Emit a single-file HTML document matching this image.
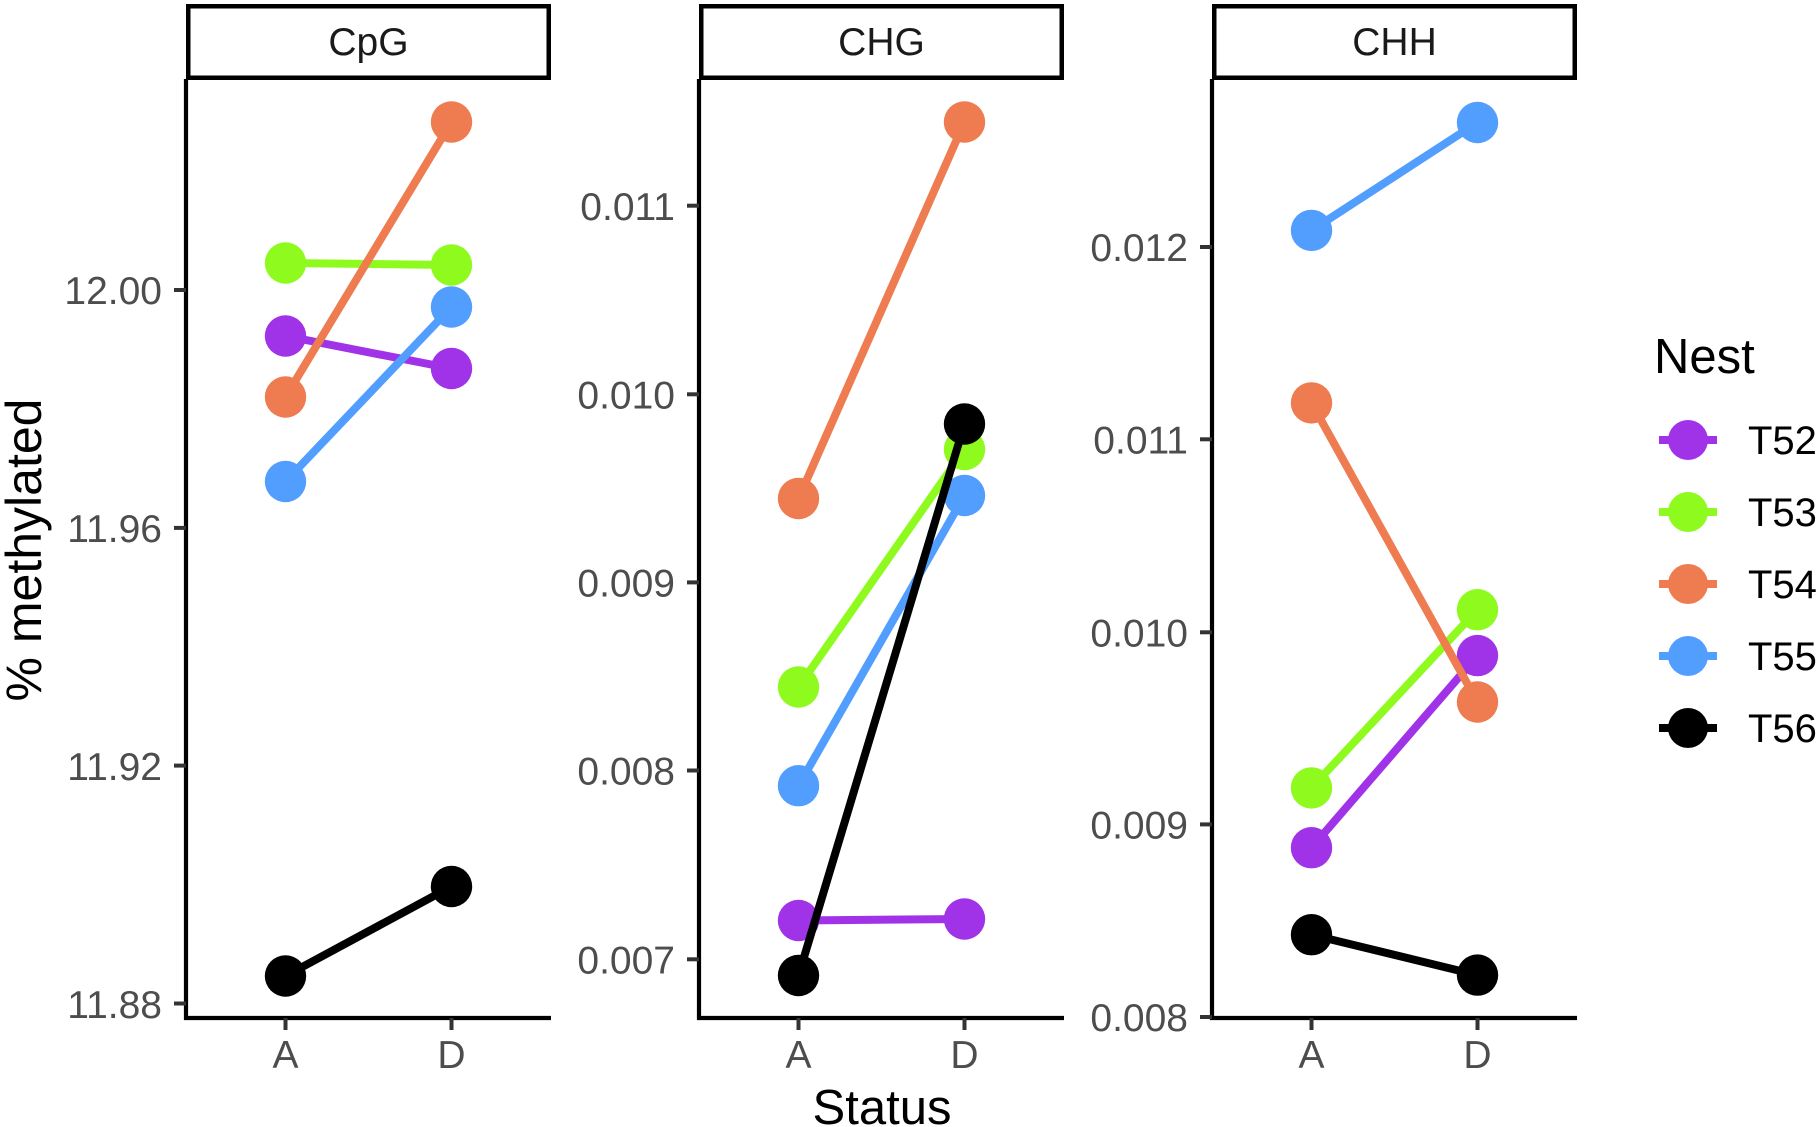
<!DOCTYPE html>
<html><head><meta charset="utf-8"><style>
html,body{margin:0;padding:0;background:#fff;}
svg{display:block;}
text{font-family:"Liberation Sans",Arial,sans-serif;}
.tk{fill:#4d4d4d;font-size:39px;}
.st{fill:#1a1a1a;font-size:39px;}
</style></head><body>
<svg width="1820" height="1127" viewBox="0 0 1820 1127" xmlns="http://www.w3.org/2000/svg">
<rect width="1820" height="1127" fill="#fff"/>

<!-- ===== Panel 1: CpG ===== -->
<rect x="188.25" y="6.25" width="360.5" height="71.5" fill="#fff" stroke="#000" stroke-width="4.5"/>
<text class="st" x="368.5" y="55" text-anchor="middle">CpG</text>
<g stroke="#000" stroke-width="4.2" fill="none">
<line x1="186" y1="79" x2="186" y2="1020"/>
<line x1="184" y1="1018" x2="551" y2="1018"/>
</g>
<g stroke="#333" stroke-width="4">
<line x1="174" y1="290" x2="186" y2="290"/>
<line x1="174" y1="527.9" x2="186" y2="527.9"/>
<line x1="174" y1="765.6" x2="186" y2="765.6"/>
<line x1="174" y1="1003.5" x2="186" y2="1003.5"/>
<line x1="285.5" y1="1018" x2="285.5" y2="1030"/>
<line x1="451.5" y1="1018" x2="451.5" y2="1030"/>
</g>
<g class="tk" text-anchor="end">
<text x="162" y="304">12.00</text>
<text x="162" y="542">11.96</text>
<text x="162" y="780">11.92</text>
<text x="162" y="1018">11.88</text>
</g>
<g class="tk" text-anchor="middle">
<text x="285.5" y="1068">A</text>
<text x="451.5" y="1068">D</text>
</g>
<g>
<circle cx="285.5" cy="336" r="20.7" fill="#A033E8"/><circle cx="451.5" cy="368.5" r="20.7" fill="#A033E8"/>
<circle cx="285.5" cy="263" r="20.7" fill="#8FFA1E"/><circle cx="451.5" cy="265" r="20.7" fill="#8FFA1E"/>
<circle cx="285.5" cy="397" r="20.7" fill="#EF7B50"/><circle cx="451.5" cy="122" r="20.7" fill="#EF7B50"/>
<circle cx="285.5" cy="481.5" r="20.7" fill="#529EFF"/><circle cx="451.5" cy="307" r="20.7" fill="#529EFF"/>
<circle cx="285.5" cy="976" r="20.7" fill="#000"/><circle cx="451.5" cy="886.5" r="20.7" fill="#000"/>
</g>
<g stroke-width="8" stroke-linecap="butt">
<line x1="285.5" y1="336" x2="451.5" y2="368.5" stroke="#A033E8"/>
<line x1="285.5" y1="263" x2="451.5" y2="265" stroke="#8FFA1E"/>
<line x1="285.5" y1="397" x2="451.5" y2="122" stroke="#EF7B50"/>
<line x1="285.5" y1="481.5" x2="451.5" y2="307" stroke="#529EFF"/>
<line x1="285.5" y1="976" x2="451.5" y2="886.5" stroke="#000"/>
</g>

<!-- ===== Panel 2: CHG ===== -->
<rect x="701.25" y="6.25" width="360.5" height="71.5" fill="#fff" stroke="#000" stroke-width="4.5"/>
<text class="st" x="881.5" y="55" text-anchor="middle">CHG</text>
<g stroke="#000" stroke-width="4.2" fill="none">
<line x1="699" y1="79" x2="699" y2="1020"/>
<line x1="697" y1="1018" x2="1064" y2="1018"/>
</g>
<g stroke="#333" stroke-width="4">
<line x1="687" y1="205.7" x2="699" y2="205.7"/>
<line x1="687" y1="394.3" x2="699" y2="394.3"/>
<line x1="687" y1="582.4" x2="699" y2="582.4"/>
<line x1="687" y1="770.5" x2="699" y2="770.5"/>
<line x1="687" y1="959.3" x2="699" y2="959.3"/>
<line x1="798.5" y1="1018" x2="798.5" y2="1030"/>
<line x1="964.5" y1="1018" x2="964.5" y2="1030"/>
</g>
<g class="tk" text-anchor="end">
<text x="675" y="220">0.011</text>
<text x="675" y="408.5">0.010</text>
<text x="675" y="596.5">0.009</text>
<text x="675" y="784.5">0.008</text>
<text x="675" y="973.5">0.007</text>
</g>
<g class="tk" text-anchor="middle">
<text x="798.5" y="1068">A</text>
<text x="964.5" y="1068">D</text>
</g>
<g>
<circle cx="798.5" cy="920.5" r="20.7" fill="#A033E8"/><circle cx="964.5" cy="919" r="20.7" fill="#A033E8"/>
<circle cx="798.5" cy="687" r="20.7" fill="#8FFA1E"/><circle cx="964.5" cy="449.5" r="20.7" fill="#8FFA1E"/>
<circle cx="798.5" cy="498.5" r="20.7" fill="#EF7B50"/><circle cx="964.5" cy="122" r="20.7" fill="#EF7B50"/>
<circle cx="798.5" cy="785.7" r="20.7" fill="#529EFF"/><circle cx="964.5" cy="495.5" r="20.7" fill="#529EFF"/>
<circle cx="798.5" cy="975.5" r="20.7" fill="#000"/><circle cx="964.5" cy="424" r="20.7" fill="#000"/>
</g>
<g stroke-width="8">
<line x1="798.5" y1="920.5" x2="964.5" y2="919" stroke="#A033E8"/>
<line x1="798.5" y1="687" x2="964.5" y2="449.5" stroke="#8FFA1E"/>
<line x1="798.5" y1="498.5" x2="964.5" y2="122" stroke="#EF7B50"/>
<line x1="798.5" y1="785.7" x2="964.5" y2="495.5" stroke="#529EFF"/>
<line x1="798.5" y1="975.5" x2="964.5" y2="424" stroke="#000"/>
</g>

<!-- ===== Panel 3: CHH ===== -->
<rect x="1214.25" y="6.25" width="360.5" height="71.5" fill="#fff" stroke="#000" stroke-width="4.5"/>
<text class="st" x="1394.5" y="55" text-anchor="middle">CHH</text>
<g stroke="#000" stroke-width="4.2" fill="none">
<line x1="1212" y1="79" x2="1212" y2="1020"/>
<line x1="1210" y1="1018" x2="1577" y2="1018"/>
</g>
<g stroke="#333" stroke-width="4">
<line x1="1200" y1="247" x2="1212" y2="247"/>
<line x1="1200" y1="439.3" x2="1212" y2="439.3"/>
<line x1="1200" y1="632.3" x2="1212" y2="632.3"/>
<line x1="1200" y1="824.4" x2="1212" y2="824.4"/>
<line x1="1200" y1="1017" x2="1212" y2="1017"/>
<line x1="1311.5" y1="1018" x2="1311.5" y2="1030"/>
<line x1="1477.5" y1="1018" x2="1477.5" y2="1030"/>
</g>
<g class="tk" text-anchor="end">
<text x="1188" y="261">0.012</text>
<text x="1188" y="453.5">0.011</text>
<text x="1188" y="646.5">0.010</text>
<text x="1188" y="838.5">0.009</text>
<text x="1188" y="1031">0.008</text>
</g>
<g class="tk" text-anchor="middle">
<text x="1311.5" y="1068">A</text>
<text x="1477.5" y="1068">D</text>
</g>
<g>
<circle cx="1311.5" cy="847.7" r="20.7" fill="#A033E8"/><circle cx="1477.5" cy="655.6" r="20.7" fill="#A033E8"/>
<circle cx="1311.5" cy="787.9" r="20.7" fill="#8FFA1E"/><circle cx="1477.5" cy="609.7" r="20.7" fill="#8FFA1E"/>
<circle cx="1311.5" cy="402.9" r="20.7" fill="#EF7B50"/><circle cx="1477.5" cy="702" r="20.7" fill="#EF7B50"/>
<circle cx="1311.5" cy="230.4" r="20.7" fill="#529EFF"/><circle cx="1477.5" cy="122.5" r="20.7" fill="#529EFF"/>
<circle cx="1311.5" cy="934.7" r="20.7" fill="#000"/><circle cx="1477.5" cy="975.1" r="20.7" fill="#000"/>
</g>
<g stroke-width="8">
<line x1="1311.5" y1="847.7" x2="1477.5" y2="655.6" stroke="#A033E8"/>
<line x1="1311.5" y1="787.9" x2="1477.5" y2="609.7" stroke="#8FFA1E"/>
<line x1="1311.5" y1="402.9" x2="1477.5" y2="702" stroke="#EF7B50"/>
<line x1="1311.5" y1="230.4" x2="1477.5" y2="122.5" stroke="#529EFF"/>
<line x1="1311.5" y1="934.7" x2="1477.5" y2="975.1" stroke="#000"/>
</g>

<!-- ===== Axis titles ===== -->
<text x="882" y="1124" text-anchor="middle" font-size="49" fill="#000">Status</text>
<text transform="translate(41,550) rotate(-90)" text-anchor="middle" font-size="50" fill="#000">% methylated</text>

<!-- ===== Legend ===== -->
<text x="1654" y="373" font-size="49" fill="#000">Nest</text>
<g stroke-width="8">
<line x1="1659" y1="440" x2="1717" y2="440" stroke="#A033E8"/>
<line x1="1659" y1="512" x2="1717" y2="512" stroke="#8FFA1E"/>
<line x1="1659" y1="584" x2="1717" y2="584" stroke="#EF7B50"/>
<line x1="1659" y1="656" x2="1717" y2="656" stroke="#529EFF"/>
<line x1="1659" y1="728" x2="1717" y2="728" stroke="#000"/>
</g>
<circle cx="1688" cy="440" r="20" fill="#A033E8"/>
<circle cx="1688" cy="512" r="20" fill="#8FFA1E"/>
<circle cx="1688" cy="584" r="20" fill="#EF7B50"/>
<circle cx="1688" cy="656" r="20" fill="#529EFF"/>
<circle cx="1688" cy="728" r="20" fill="#000"/>
<g font-size="40" fill="#000">
<text x="1748" y="454">T52</text>
<text x="1748" y="526">T53</text>
<text x="1748" y="598">T54</text>
<text x="1748" y="670">T55</text>
<text x="1748" y="742">T56</text>
</g>
</svg>
</body></html>
